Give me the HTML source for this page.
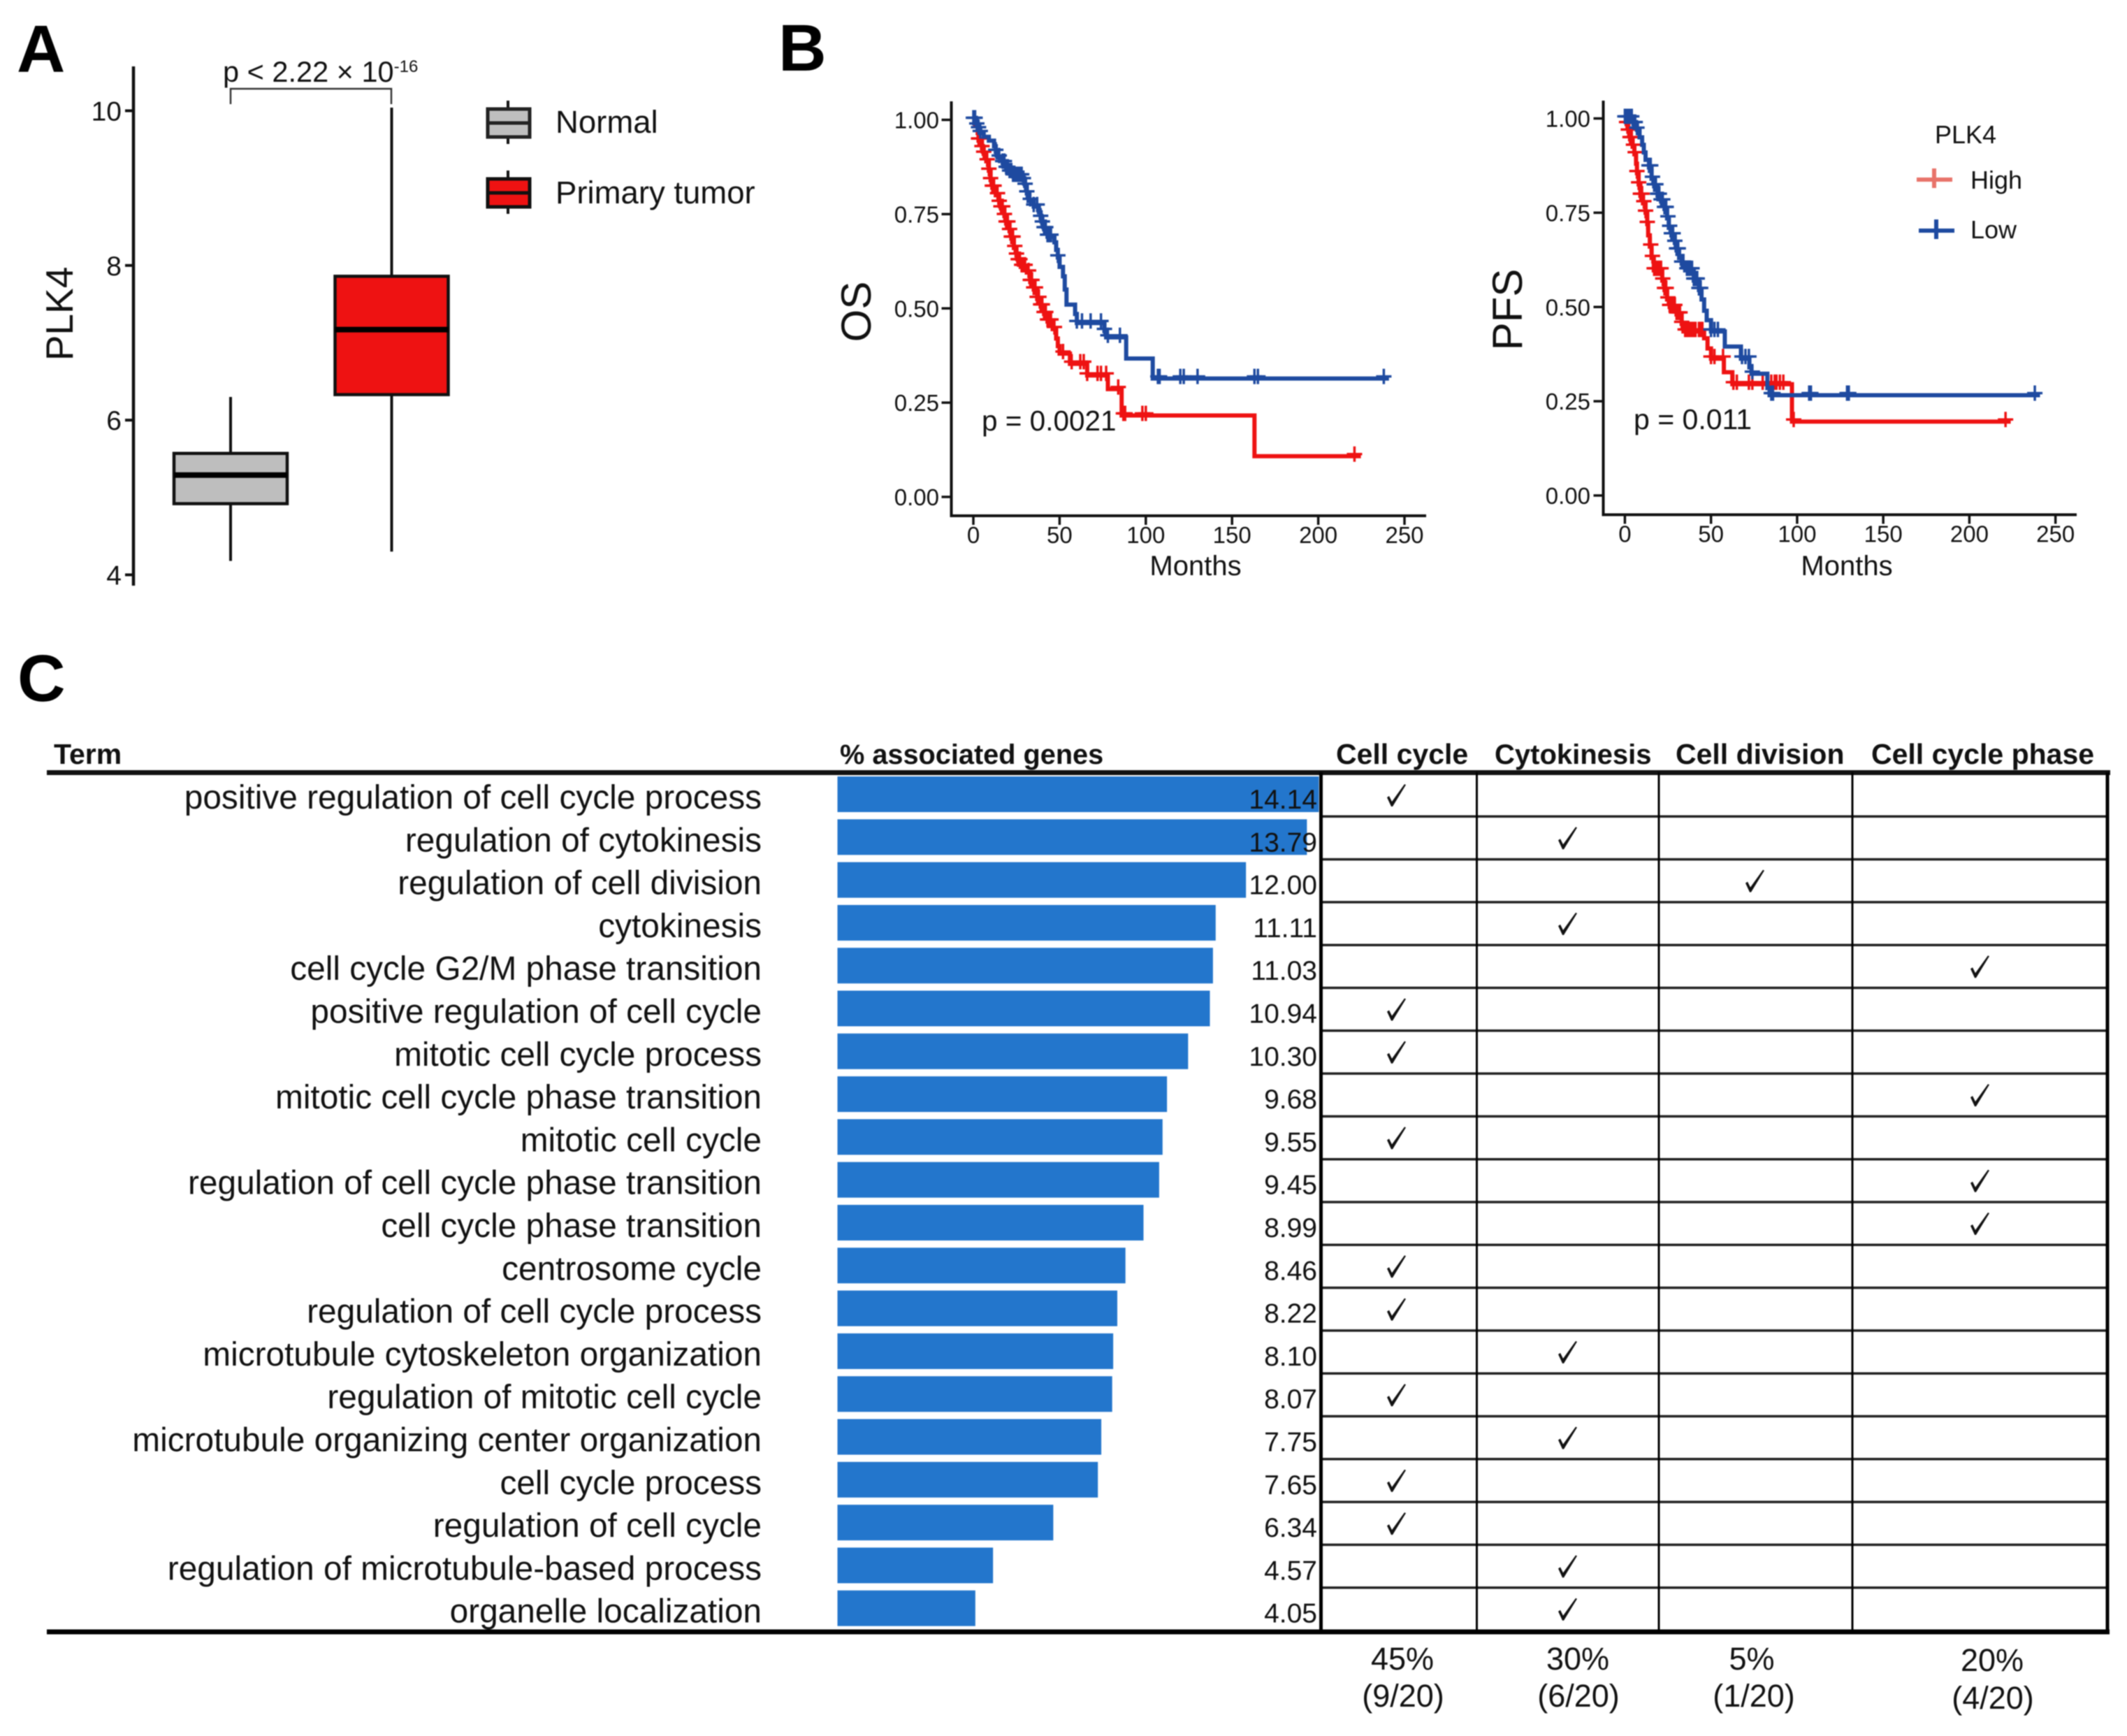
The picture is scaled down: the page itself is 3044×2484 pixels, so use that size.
<!DOCTYPE html>
<html lang="en">
<head>
<meta charset="utf-8">
<title>PLK4 expression, survival and enrichment</title>
<style>
html,body{margin:0;padding:0;background:#fff;}
svg{display:block;font-family:"Liberation Sans",sans-serif;fill:#111;filter:blur(0.7px);}
text{fill:#111;}
.bold{font-weight:bold;}
</style>
</head>
<body>
<svg id="figure" xmlns="http://www.w3.org/2000/svg" width="3044" height="2484" viewBox="0 0 3044 2484">
<rect x="0" y="0" width="3044" height="2484" fill="#fff"/>

<text class="bold" x="24" y="103" font-size="96" style="fill:#000">A</text>
<text class="bold" x="1114" y="101" font-size="95" style="fill:#000">B</text>
<text class="bold" x="25" y="1003" font-size="95" style="fill:#000">C</text>

<!-- Panel A -->
<g id="panel-a">
  <line x1="191" y1="95" x2="191" y2="838" stroke="#111" stroke-width="4.5"/>
  <text transform="translate(104,449) rotate(-90)" text-anchor="middle" font-size="55">PLK4</text>
  <g id="box-ticks"></g>
  <g id="box-marks"></g>
  <path d="M330 149V127H560V149" fill="none" stroke="#333" stroke-width="2.5"/>
  <text x="319" y="117" font-size="41.5">p &lt; 2.22 × 10<tspan font-size="24" dy="-14">-16</tspan></text>
  <g>
    <line x1="727" y1="144" x2="727" y2="206" stroke="#111" stroke-width="4"/>
    <rect x="698" y="156" width="60" height="40" fill="#bebebe" stroke="#222" stroke-width="5"/>
    <line x1="698" y1="176" x2="758" y2="176" stroke="#222" stroke-width="5"/>
    <text x="795" y="190" font-size="45.5">Normal</text>
  </g>
  <g>
    <line x1="727" y1="244" x2="727" y2="306" stroke="#111" stroke-width="4"/>
    <rect x="698" y="256" width="60" height="40" fill="#ee1212" stroke="#111" stroke-width="5"/>
    <line x1="698" y1="276" x2="758" y2="276" stroke="#111" stroke-width="5"/>
    <text x="795" y="291" font-size="45.5">Primary tumor</text>
  </g>
</g>

<!-- Panel B OS -->
<g id="panel-os">
  <path d="M1361.5 145V738H2041" fill="none" stroke="#111" stroke-width="4"/>
  <text transform="translate(1246,446) rotate(-90)" text-anchor="middle" font-size="60">OS</text>
  <text x="1711" y="823" text-anchor="middle" font-size="40">Months</text>
  <g id="os-ticks"></g>
  <g id="os-marks"></g>
  <text x="1405" y="616" font-size="40.5">p = 0.0021</text>
</g>

<!-- Panel B PFS -->
<g id="panel-pfs">
  <path d="M2294.5 144V736.5H2972" fill="none" stroke="#111" stroke-width="4"/>
  <text transform="translate(2178,443) rotate(-90)" text-anchor="middle" font-size="60">PFS</text>
  <text x="2643" y="823" text-anchor="middle" font-size="40">Months</text>
  <g id="pfs-ticks"></g>
  <g id="pfs-marks"></g>
  <text x="2338" y="614" font-size="41">p = 0.011</text>
  <text x="2769" y="205" font-size="36">PLK4</text>
  <g>
    <path d="M2743 257H2794M2768 241V269" fill="none" stroke="#e8736a" stroke-width="6"/>
    <text x="2820" y="270" font-size="36">High</text>
  </g>
  <g>
    <path d="M2746 330H2797M2771 314V342" fill="none" stroke="#1e4aa0" stroke-width="6"/>
    <text x="2820" y="341" font-size="36">Low</text>
  </g>
</g>

<!-- Panel C -->
<g id="panel-c">
  <text class="bold" x="77" y="1093" font-size="41">Term</text>
  <text class="bold" x="1202" y="1093" font-size="39.7">% associated genes</text>
  <text class="bold" x="1912" y="1093" font-size="41">Cell cycle</text>
  <text class="bold" x="2139" y="1093" font-size="40">Cytokinesis</text>
  <text class="bold" x="2398" y="1093" font-size="41">Cell division</text>
  <text class="bold" x="2678" y="1093" font-size="41">Cell cycle phase</text>
  <g id="table-rows"></g>
  <line x1="67" y1="1105.5" x2="3020" y2="1105.5" stroke="#111" stroke-width="7"/>
  <line x1="1890.5" y1="1105" x2="1890.5" y2="2335" stroke="#000" stroke-width="5"/>
  <line x1="2113.5" y1="1105" x2="2113.5" y2="2335" stroke="#000" stroke-width="3"/>
  <line x1="2374" y1="1105" x2="2374" y2="2335" stroke="#000" stroke-width="3"/>
  <line x1="2651" y1="1105" x2="2651" y2="2335" stroke="#000" stroke-width="3"/>
  <line x1="3016" y1="1105" x2="3016" y2="2338" stroke="#000" stroke-width="5"/>
  <line x1="67" y1="2335" x2="3019" y2="2335" stroke="#000" stroke-width="7"/>
  <g>
    <text x="2007" y="2389" text-anchor="middle" font-size="45">45%</text>
    <text x="2008" y="2442" text-anchor="middle" font-size="45">(9/20)</text>
  </g>
  <g>
    <text x="2258" y="2389" text-anchor="middle" font-size="45">30%</text>
    <text x="2259" y="2442" text-anchor="middle" font-size="45">(6/20)</text>
  </g>
  <g>
    <text x="2507" y="2389" text-anchor="middle" font-size="45">5%</text>
    <text x="2510" y="2442" text-anchor="middle" font-size="45">(1/20)</text>
  </g>
  <g>
    <text x="2851" y="2391" text-anchor="middle" font-size="45">20%</text>
    <text x="2852" y="2445" text-anchor="middle" font-size="45">(4/20)</text>
  </g>
</g>
</svg>

<script>
// ---- Panel A data ----
const boxCategories = ['normal', 'primary-tumor'];
const boxWhiskerLow = [4.18, 4.30];
const boxQ1 = [4.92, 6.33];
const boxMedian = [5.29, 7.17];
const boxQ3 = [5.57, 7.86];
const boxWhiskerHigh = [6.30, 10.04];
const boxFills = ['#bebebe', '#ee1212'];
const boxYTicks = [4, 6, 8, 10];

// ---- Panel B shared ticks ----
const survivalYTicks = ['0.00', '0.25', '0.50', '0.75', '1.00'];
const survivalXTicks = [0, 50, 100, 150, 200, 250];

// ---- OS curves ----
const osHighMonths = [0,1,2.5,3,5,6,7.5,9,10,11,13,15,16,18,19,21,22,23.5,25,26,27.5,31,33,35,37,39,41,43,46,48,49,50,56,66,78,86,163,224.7];
const osHighSurv = [1,.985,.965,.945,.925,.91,.89,.865,.84,.82,.80,.78,.765,.745,.725,.705,.685,.66,.64,.625,.61,.595,.57,.55,.525,.505,.485,.465,.445,.42,.40,.38,.353,.322,.286,.216,.108,.108];
const osHighCensored = [3,4,5,6,8,9,10,11,12,14,15,16,17,18,19,20,21,22,23,24,25,26,27,28,29,30,32,33,34,35,36,37,38,39,40,41,42,43,44,45,47,52,57,62,64,66,72,74,77,84,87,88,98,100,221];
const osLowMonths = [0,2,3,4,6,9,12,13,14,17,19,21,23,29,30,31,32,35,38,39,40,41,43,47,48,49,50,52,53,54,59,60,76,77,88.6,104,241];
const osLowSurv = [1,.985,.975,.965,.955,.945,.93,.915,.90,.885,.87,.86,.85,.84,.825,.805,.785,.77,.755,.74,.725,.71,.69,.675,.655,.635,.61,.585,.55,.51,.485,.461,.44,.423,.367,.314,.314];
const osLowCensored = [0,1,2,3,4,13,15,17,18,19,20,21,22,23,24,25,26,27,28,29,30,31,33,35,37,39,40,41,42,43,44,45,49,60,63,68,74,76,78,85,107,108,120,122,130,163,165,238];

// ---- PFS curves ----
const pfsHighMonths = [0,1,2,3,4.5,5.5,6.5,7,8,9,10.5,12,13,13.5,14.5,15.5,16.8,21.7,23,24.5,26,30,33,34,46,48,50,57.5,62.4,97,224];
const pfsHighSurv = [1,.985,.965,.945,.925,.905,.88,.855,.825,.795,.775,.75,.72,.69,.66,.63,.597,.57,.545,.52,.50,.48,.455,.435,.417,.39,.363,.327,.295,.196,.196];
const pfsHighCensored = [1,2,3,4,5,6,7,8,9,10,11,12,13,15,16,17,18,19,20,21,22,23,24,25,26,27,28,29,30,31,32,33,35,36,37,38,39,40,41,43,44,45,50,52,57,63,65,72,74,80,85,87,88,90,92,98,221];
const pfsLowMonths = [0,5,7,8.5,10,11,12,14,15.5,17,19,21,23,24.5,25.5,27,29,30,31.5,33,35,40,43,44.5,46,47.5,50,58,67.4,72.3,73.5,82.7,84,241];
const pfsLowSurv = [1,.985,.97,.95,.93,.91,.89,.87,.84,.82,.795,.78,.76,.735,.71,.69,.67,.65,.63,.615,.597,.57,.545,.52,.49,.465,.435,.395,.363,.34,.323,.285,.266,.266];
const pfsLowCensored = [0,1,2,3,4,5,6,7,14,15,16,17,18,19,20,21,22,23,24,25,26,27,28,29,30,31,33,34,36,37,38,39,40,41,42,43,44,50,52,54,68,70,72,74,85,86,107,108,129,130,238];

// ---- Panel C data ----
const termLabels = [
  'positive regulation of cell cycle process','regulation of cytokinesis','regulation of cell division','cytokinesis',
  'cell cycle G2/M phase transition','positive regulation of cell cycle','mitotic cell cycle process','mitotic cell cycle phase transition',
  'mitotic cell cycle','regulation of cell cycle phase transition','cell cycle phase transition','centrosome cycle',
  'regulation of cell cycle process','microtubule cytoskeleton organization','regulation of mitotic cell cycle','microtubule organizing center organization',
  'cell cycle process','regulation of cell cycle','regulation of microtubule-based process','organelle localization'];
const termValues = [14.14,13.79,12.00,11.11,11.03,10.94,10.30,9.68,9.55,9.45,8.99,8.46,8.22,8.10,8.07,7.75,7.65,6.34,4.57,4.05];
const checkColumnNames = ['cell-cycle','cytokinesis','cell-division','cell-cycle-phase'];
const termCheckColumn = [0,1,2,1,3,0,0,3,0,3,3,0,0,1,0,1,0,0,1,1];

// ---- Axis functions ----
function boxY(v) { return 822.5 - (v - 4) * 110.67; }
function boxX(i) { return 330 + i * 230.5; }
function osX(t) { return 1393 + t * 2.468; }
function osY(s) { return 711 - s * 539.5; }
function pfsX(t) { return 2325.4 + t * 2.465; }
function pfsY(s) { return 709 - s * 539.5; }
function barX(v) { return 1198.5 + v * 48.72; }
function rowTop(i) { return 1107 + i * 61.3; }
function columnCenter(c) { return [1998, 2243, 2511, 2833][c]; }

const SVGNS = 'http://www.w3.org/2000/svg';
function make(tag, parentId, attrs, text) {
  const node = document.createElementNS(SVGNS, tag);
  for (const key in attrs) node.setAttribute(key, attrs[key]);
  if (text !== undefined) node.textContent = text;
  document.getElementById(parentId).appendChild(node);
  return node;
}

// ---- Draw Panel A ----
boxYTicks.forEach(function (tick) {
  const mark = make('line', 'box-ticks', {x1: 179, x2: 191, y1: boxY(tick), y2: boxY(tick), stroke: '#111', 'stroke-width': 4});
  
  
  const label = make('text', 'box-ticks', {x: 174, y: boxY(tick) + 14, 'text-anchor': 'end', 'font-size': 39}, String(tick));
  
  
});
boxCategories.forEach(function (cat, i) {
  const cx = boxX(i);
  const whisker = make('line', 'box-marks', {x1: cx, x2: cx, y1: boxY(boxWhiskerHigh[i]), y2: boxY(boxWhiskerLow[i]), stroke: '#111', 'stroke-width': 4});
  
  
  const box = make('rect', 'box-marks', {x: cx - 81, width: 162, y: boxY(boxQ3[i]), height: boxY(boxQ1[i]) - boxY(boxQ3[i]), fill: boxFills[i], stroke: '#111', 'stroke-width': 4.5});
  
  
  const median = make('line', 'box-marks', {x1: cx - 81, x2: cx + 81, y1: boxY(boxMedian[i]), y2: boxY(boxMedian[i]), stroke: '#000', 'stroke-width': 8});
  
  
});

// ---- Draw Panel B ----
function drawSurvivalAxes(groupId, xFn, yFn, yAxisX, xAxisY, labelRight) {
  survivalYTicks.forEach(function (tick) {
    const y = yFn(parseFloat(tick));
    const mark = make('line', groupId, {x1: yAxisX - 14, x2: yAxisX, y1: y, y2: y, stroke: '#111', 'stroke-width': 3.5});
    
    
    const label = make('text', groupId, {x: labelRight, y: y + 12, 'text-anchor': 'end', 'font-size': 33}, tick);
    
    
  });
  survivalXTicks.forEach(function (tick) {
    const x = xFn(tick);
    const mark = make('line', groupId, {x1: x, x2: x, y1: xAxisY, y2: xAxisY + 13, stroke: '#111', 'stroke-width': 3.5});
    
    
    const label = make('text', groupId, {x: x, y: xAxisY + 39, 'text-anchor': 'middle', 'font-size': 33}, String(tick));
    
    
  });
}
function survivalAt(months, surv, t) {
  let s = surv[0];
  for (let k = 0; k < months.length; k++) { if (months[k] <= t) s = surv[k]; }
  return s;
}
function drawCurve(groupId, xFn, yFn, months, surv, censored, color, seriesName) {
  let d = 'M' + xFn(months[0]) + ' ' + yFn(surv[0]);
  for (let k = 1; k < months.length; k++) {
    d += 'H' + xFn(months[k]).toFixed(1) + 'V' + yFn(surv[k]).toFixed(1);
  }
  const line = make('path', groupId, {d: d, fill: 'none', stroke: color, 'stroke-width': 6});
  
  
  censored.forEach(function (t) {
    const x = xFn(t);
    const y = yFn(survivalAt(months, surv, t)) - 3;
    const cross = make('path', groupId, {d: 'M' + (x - 11) + ' ' + y + 'H' + (x + 11) + 'M' + x + ' ' + (y - 11) + 'V' + (y + 11), fill: 'none', stroke: color, 'stroke-width': 3.5});
    
    
  });
}
drawSurvivalAxes('os-ticks', osX, osY, 1361.5, 738, 1344);
drawSurvivalAxes('pfs-ticks', pfsX, pfsY, 2294.5, 736.5, 2276);
drawCurve('os-marks', osX, osY, osHighMonths, osHighSurv, osHighCensored, '#ee1212', 'os-high');
drawCurve('os-marks', osX, osY, osLowMonths, osLowSurv, osLowCensored, '#1e4aa0', 'os-low');
drawCurve('pfs-marks', pfsX, pfsY, pfsHighMonths, pfsHighSurv, pfsHighCensored, '#ee1212', 'pfs-high');
drawCurve('pfs-marks', pfsX, pfsY, pfsLowMonths, pfsLowSurv, pfsLowCensored, '#1e4aa0', 'pfs-low');

// ---- Draw Panel C ----
termLabels.forEach(function (term, i) {
  const top = rowTop(i);
  const label = make('text', 'table-rows', {x: 1090, y: top + 50, 'text-anchor': 'end', 'font-size': 47.8}, term);
  
  
  const bar = make('rect', 'table-rows', {x: barX(0), y: top + 4, width: barX(termValues[i]) - barX(0), height: 51, fill: '#2376cc'});
  
  
  const value = make('text', 'table-rows', {x: 1885, y: top + 50, 'text-anchor': 'end', 'font-size': 39}, termValues[i].toFixed(2));
  
  
  const cx = columnCenter(termCheckColumn[i]);
  const ty = top + 15;
  const check = make('path', 'table-rows', {d: 'M' + (cx - 13) + ' ' + (ty + 19) + 'L' + (cx - 10) + ' ' + (ty + 17) + 'L' + (cx - 6) + ' ' + (ty + 25) + 'L' + (cx + 12) + ' ' + ty + 'L' + (cx + 14) + ' ' + (ty + 1) + 'L' + (cx - 5) + ' ' + (ty + 32) + 'L' + (cx - 7) + ' ' + (ty + 32) + 'Z', fill: '#111'});
  
  
  if (i > 0) {
    const rule = make('line', 'table-rows', {x1: 1890, x2: 3016, y1: top, y2: top, stroke: '#222', 'stroke-width': 3.5});
    
    
  }
});
</script>
</body>
</html>
